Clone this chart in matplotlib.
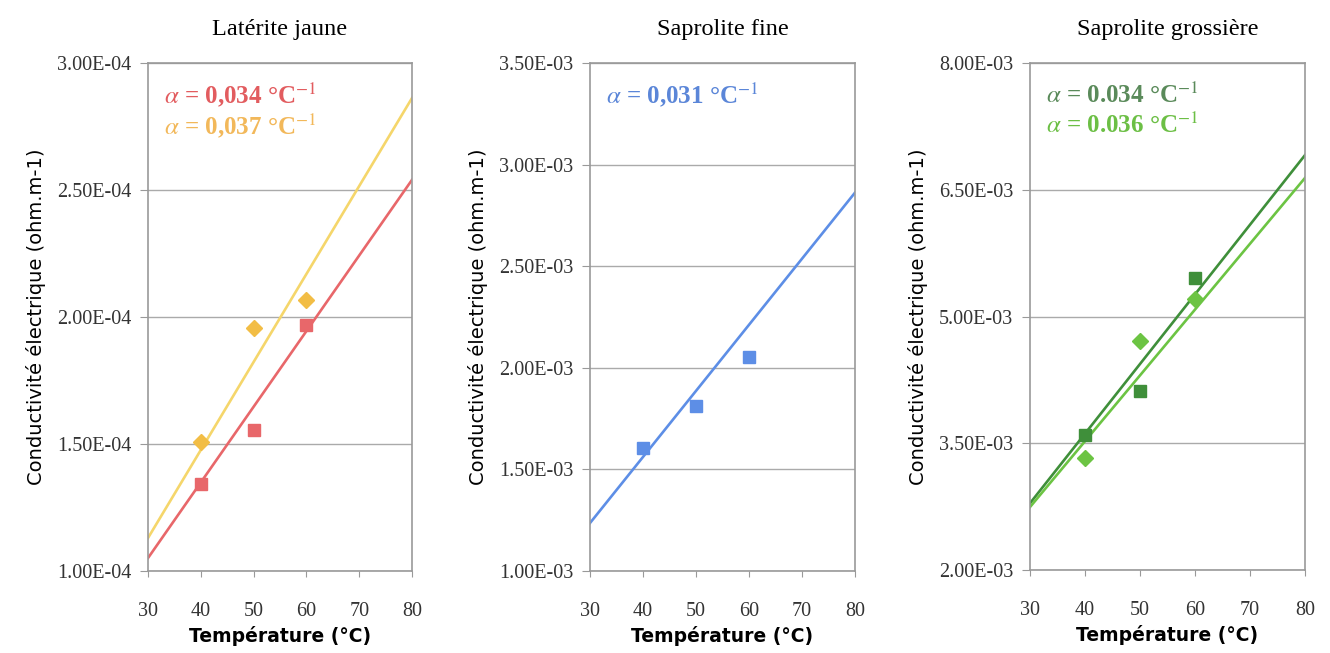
import matplotlib.pyplot as plt
import numpy as np

plt.rcParams['mathtext.fontset'] = 'stix'

# Températures de mesure
temp = [40, 50, 60]

# Latérite jaune (x1e-4)
lat_carre = [1.344, 1.557, 1.968]
lat_losange = [1.506, 1.957, 2.067]
# Droites de tendance : valeur à 30 et 80 °C
lat_carre_fit = [1.051, 2.540]
lat_losange_fit = [1.130, 2.862]

# Saprolite fine (x1e-3)
sf_carre = [1.606, 1.813, 2.054]
sf_carre_fit = [1.236, 2.862]

# Saprolite grossière (x1e-3)
sg_carre = [3.598, 4.118, 5.456]
sg_losange = [3.325, 4.710, 5.207]
sg_carre_fit = [2.790, 6.910]
sg_losange_fit = [2.745, 6.640]

fit_x = [30, 80]

titres = ['Latérite jaune', 'Saprolite fine', 'Saprolite grossière']
yticks_list = [
    [1.0e-4, 1.5e-4, 2.0e-4, 2.5e-4, 3.0e-4],
    [1.0e-3, 1.5e-3, 2.0e-3, 2.5e-3, 3.0e-3, 3.5e-3],
    [2.0e-3, 3.5e-3, 5.0e-3, 6.5e-3, 8.0e-3],
]
echelles = [1e-4, 1e-3, 1e-3]

rouge = '#e8676a'
jaune_ligne = '#f5d66b'
jaune = '#f2bd45'
bleu = '#5d8ee6'
vert_fonce = '#3f8f3a'
vert_clair = '#6cc443'

series = [
    [(lat_carre, lat_carre_fit, rouge, rouge, 's'),
     (lat_losange, lat_losange_fit, jaune, jaune_ligne, 'D')],
    [(sf_carre, sf_carre_fit, bleu, bleu, 's')],
    [(sg_carre, sg_carre_fit, vert_fonce, vert_fonce, 's'),
     (sg_losange, sg_losange_fit, vert_clair, vert_clair, 'D')],
]

textes = [
    [(r'$\alpha$ = 0,034 °C$^{-1}$', '#e25c5f'), (r'$\alpha$ = 0,037 °C$^{-1}$', '#f2b85a')],
    [(r'$\alpha$ = 0,031 °C$^{-1}$', '#5b86d8')],
    [(r'$\alpha$ = 0.034 °C$^{-1}$', '#5a8a5a'), (r'$\alpha$ = 0.036 °C$^{-1}$', '#6cbf45')],
]

positions = [
    (148, 412, 63, 571),
    (590, 855, 63, 571),
    (1030, 1305, 63, 570),
]

W, H = 1330, 653
fig = plt.figure(figsize=(W / 100, H / 100), dpi=100)

for i in range(3):
    x0, x1, y0, y1 = positions[i]
    ax = fig.add_axes([x0 / W, 1 - y1 / H, (x1 - x0) / W, (y1 - y0) / H])
    ech = echelles[i]
    for pts, fit, c_pt, c_ln, m in series[i]:
        ax.plot(fit_x, np.array(fit) * ech, color=c_ln, lw=1.9, zorder=2)
        ax.plot(temp, np.array(pts) * ech, ls='none', marker=m, color=c_pt,
                markersize=9 if m == 's' else 8, zorder=3)
    yt = yticks_list[i]
    ax.set_xlim(30, 80)
    ax.set_ylim(yt[0], yt[-1])
    ax.set_xticks([30, 40, 50, 60, 70, 80])
    ax.set_yticks(yt)
    ax.set_yticklabels(['%.2fE-%02d' % (v / ech, -int(np.log10(ech))) for v in yt],
                       family='Liberation Serif', fontsize=14.5, color='#333333')
    ax.set_xticklabels([str(v) for v in [30, 40, 50, 60, 70, 80]],
                       family='Liberation Serif', fontsize=14.5, color='#333333')
    ax.tick_params(axis='x', length=4, pad=18, color='#999999')
    ax.tick_params(axis='y', length=6, pad=6, color='#999999')
    ax.grid(axis='y', color='#aaaaaa', lw=1)
    ax.set_axisbelow(True)
    for s in ax.spines.values():
        s.set_color('#999999')
        s.set_linewidth(1.2)
    ax.set_title(titres[i], family='Liberation Serif', fontsize=17.5, pad=20)
    ax.set_xlabel('Température (°C)', family='DejaVu Sans', fontweight='bold',
                  fontsize=13.5, labelpad=4)
    ax.set_ylabel('Conductivité électrique (ohm.m-1)', family='DejaVu Sans',
                  fontsize=14, labelpad=8)
    for k, (t, c) in enumerate(textes[i]):
        ax.text(0.06, 0.937 - k * 0.06, t, transform=ax.transAxes, color=c,
                family='Liberation Serif', fontweight='bold', fontsize=18,
                va='center', ha='left')

fig.savefig('out.png', dpi=100)
